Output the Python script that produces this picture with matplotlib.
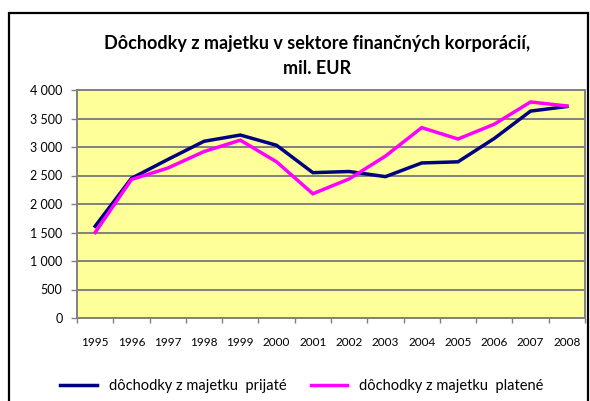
import numpy as np
import matplotlib.pyplot as plt
from matplotlib.patches import Rectangle
from matplotlib.ticker import FuncFormatter, FixedLocator

years = ["1995", "1996", "1997", "1998", "1999", "2000", "2001",
         "2002", "2003", "2004", "2005", "2006", "2007", "2008"]
prijate = [1610, 2450, 2780, 3100, 3210, 3030, 2550,
           2570, 2480, 2720, 2740, 3150, 3630, 3710]
platene = [1500, 2430, 2630, 2920, 3120, 2740, 2180,
           2440, 2840, 3340, 3140, 3400, 3790, 3720]

plt.rcParams["font.family"] = ["Lato", "DejaVu Sans"]

fig = plt.figure(figsize=(5.9, 4.01), dpi=100)
fig.patch.set_facecolor("white")

# outer chart border
fig.patches.append(Rectangle((9 / 590, -0.02), 579 / 590, 1 - 13 / 401 + 0.02,
                             transform=fig.transFigure, fill=False,
                             edgecolor="black", linewidth=1.6))

ax = fig.add_axes([77 / 590, 1 - 318 / 401, 508 / 590, 228 / 401])
ax.set_facecolor("#FFFF99")

x = np.arange(len(years))
ax.plot(x, prijate, color="#000080", linewidth=2.5, solid_joinstyle="miter",
        label="dôchodky z majetku  prijaté", zorder=3)
ax.plot(x, platene, color="#FF00FF", linewidth=2.5, solid_joinstyle="miter",
        label="dôchodky z majetku  platené", zorder=3)

ax.set_xlim(-0.5, len(years) - 0.5)
ax.set_ylim(0, 4000)
ax.set_yticks(np.arange(0, 4001, 500))
ax.yaxis.set_major_formatter(FuncFormatter(lambda v, p: f"{int(v):,}".replace(",", " ")))
ax.yaxis.grid(True, color="#808080", linewidth=1.4)
ax.set_axisbelow(True)

ax.set_xticks(x)
ax.set_xticklabels(years)
ax.xaxis.set_minor_locator(FixedLocator(np.arange(-0.5, len(years), 1)))
ax.tick_params(axis="x", which="major", length=0, pad=14, labelsize=8.5)
ax.tick_params(axis="x", which="minor", length=3.5, color="#808080", width=1)
ax.tick_params(axis="y", length=4.5, color="#808080", width=1, labelsize=9, pad=6)

for s in ax.spines.values():
    s.set_color("#808080")
    s.set_linewidth(1.4)

fig.text(317 / 590, 1 - 43 / 401, "Dôchodky z majetku v sektore finančných korporácií,",
         ha="center", va="center", fontsize=13, fontweight="bold")
fig.text(317 / 590, 1 - 68 / 401, "mil. EUR",
         ha="center", va="center", fontsize=13, fontweight="bold")

fig.legend(loc="center", bbox_to_anchor=(302 / 590, 1 - 386 / 401), ncol=2,
           frameon=False, fontsize=10.5, handlelength=2.5, columnspacing=1.7,
           handletextpad=0.8)

fig.savefig("out.png", dpi=100)
